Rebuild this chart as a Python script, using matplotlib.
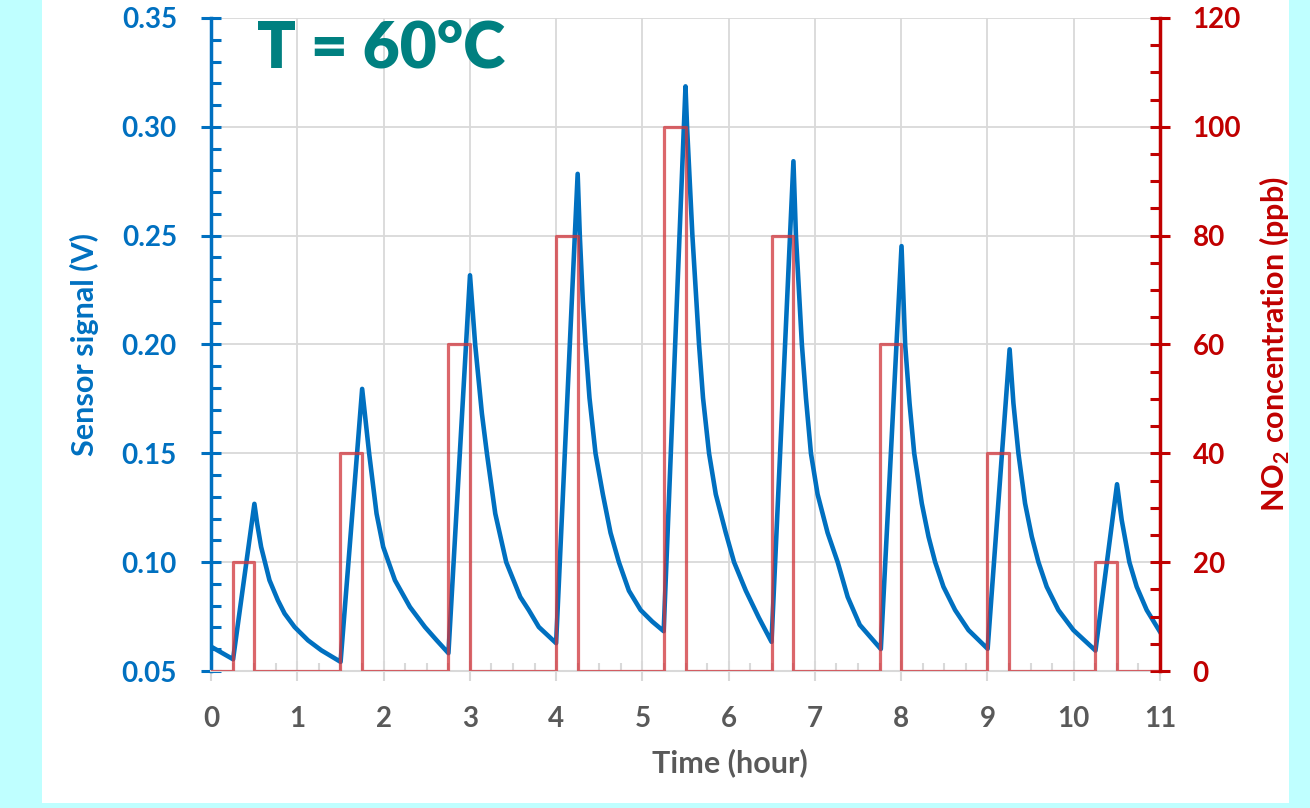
"""Sensor response to NO2 pulses at 60 C."""

import matplotlib
matplotlib.use("Agg")
import matplotlib.pyplot as plt
from matplotlib.patches import Rectangle
from matplotlib.ticker import MultipleLocator

# NO2 exposure steps (hour, ppb), held until the next time
no2_time = [0, 0.25, 0.5, 1.5, 1.75, 2.75, 3.0, 4.0, 4.25, 5.25, 5.5,
            6.5, 6.75, 7.75, 8.0, 9.0, 9.25, 10.25, 10.5, 11]
no2_ppb = [0, 20, 0, 40, 0, 60, 0, 80, 0, 100, 0,
           80, 0, 60, 0, 40, 0, 20, 0, 0]

# sensor signal (hour, V)
sig_time = [0.0, 0.256, 0.503, 0.535, 0.581, 0.678, 0.775, 0.853, 0.969, 1.124, 1.279, 1.502,
            1.752, 1.783, 1.833, 1.919, 1.996, 2.132, 2.306, 2.48, 2.616, 2.752,
            3.002, 3.062, 3.14, 3.198, 3.295, 3.422, 3.585, 3.683, 3.8, 4.0,
            4.25, 4.275, 4.31, 4.341, 4.387, 4.457, 4.542, 4.631, 4.728, 4.844, 4.98, 5.115, 5.247,
            5.5, 5.518, 5.58, 5.657, 5.703, 5.773, 5.851, 5.967, 6.063, 6.199, 6.35, 6.497,
            6.751, 6.78, 6.849, 6.896, 6.954, 7.031, 7.147, 7.264, 7.38, 7.52, 7.764,
            8.004, 8.046, 8.097, 8.151, 8.239, 8.317, 8.394, 8.49, 8.625, 8.78, 9.002,
            9.257, 9.301, 9.359, 9.436, 9.514, 9.591, 9.687, 9.822, 9.996, 10.252,
            10.502, 10.556, 10.645, 10.73, 10.846, 11.0]
sig_volt = [0.0612, 0.0554, 0.1268, 0.1177, 0.1070, 0.0917, 0.0825, 0.0764, 0.0702, 0.0641, 0.0595, 0.0542,
            0.1796, 0.1683, 0.1500, 0.1223, 0.1070, 0.0917, 0.0794, 0.0702, 0.0641, 0.0582,
            0.2318, 0.2000, 0.1683, 0.1500, 0.1223, 0.1000, 0.0840, 0.0780, 0.0702, 0.0628,
            0.2784, 0.2500, 0.2199, 0.2000, 0.1755, 0.1500, 0.1312, 0.1135, 0.1000, 0.0869, 0.0780, 0.0727, 0.0683,
            0.3186, 0.3000, 0.2500, 0.2000, 0.1755, 0.1500, 0.1312, 0.1135, 0.1000, 0.0869, 0.0745, 0.0634,
            0.2842, 0.2500, 0.2000, 0.1755, 0.1500, 0.1312, 0.1135, 0.1000, 0.0840, 0.0712, 0.0601,
            0.2452, 0.2000, 0.1730, 0.1500, 0.1270, 0.1117, 0.1000, 0.0887, 0.0780, 0.0688, 0.0602,
            0.1978, 0.1730, 0.1500, 0.1270, 0.1117, 0.1000, 0.0887, 0.0780, 0.0688, 0.0594,
            0.1358, 0.1194, 0.1000, 0.0887, 0.0780, 0.0680]

BLUE = "#0070C0"
RED = "#C00000"
GRAY = "#595959"
GRID = "#D9D9D9"

plt.rcParams["font.family"] = ["Lato", "DejaVu Sans"]
plt.rcParams["font.weight"] = "bold"
plt.rcParams["mathtext.fontset"] = "custom"
plt.rcParams["mathtext.rm"] = "Lato:bold"
plt.rcParams["mathtext.bf"] = "Lato:bold"

fig = plt.figure(figsize=(13.1, 8.08), dpi=100)
fig.patch.set_facecolor("#BFFFFF")
fig.patches.append(Rectangle((42 / 1310, 5 / 808), 1247 / 1310, 803 / 808,
                             transform=fig.transFigure, facecolor="white",
                             edgecolor="none", zorder=-10))

ax = fig.add_axes([211 / 1310, 1 - 671 / 808, 949 / 1310, 653 / 808])
ax.patch.set_alpha(0)
ax2 = ax.twinx()

ax.plot(sig_time, sig_volt, color=BLUE, lw=3.3, solid_joinstyle="round", zorder=3)
ax2.plot(no2_time, no2_ppb, drawstyle="steps-post", color="#D0343A", alpha=0.75, lw=2.3)

ax.set_xlim(0, 11)
ax.set_ylim(0.05, 0.35)
ax2.set_ylim(0, 120)

ax.xaxis.set_major_locator(MultipleLocator(1))
ax.xaxis.set_minor_locator(MultipleLocator(0.25))
ax.yaxis.set_major_locator(MultipleLocator(0.05))
ax.yaxis.set_minor_locator(MultipleLocator(0.01))
ax2.yaxis.set_major_locator(MultipleLocator(20))
ax2.yaxis.set_minor_locator(MultipleLocator(5))
ax.yaxis.set_major_formatter(plt.FuncFormatter(lambda v, _: f"{v:.2f}"))

ax.grid(True, which="major", color=GRID, lw=1.3)
ax.set_axisbelow(True)

ax.spines["top"].set_visible(False)
ax2.spines["top"].set_visible(False)
ax.spines["left"].set_color(BLUE)
ax.spines["left"].set_linewidth(2.5)
ax.spines["bottom"].set_color(GRID)
ax.spines["bottom"].set_linewidth(1.5)
ax2.spines["left"].set_visible(False)
ax2.spines["bottom"].set_visible(False)
ax2.spines["right"].set_color(RED)
ax2.spines["right"].set_linewidth(2.5)
ax.spines["right"].set_visible(False)

ax.tick_params(axis="y", which="major", direction="inout", length=15, width=2.2,
               color=BLUE, labelcolor=BLUE, labelsize=20, pad=17)
ax.tick_params(axis="y", which="minor", direction="in", length=7, width=2.2, color=BLUE)
ax.tick_params(axis="x", which="major", direction="inout", length=14, width=1.5,
               color=GRID, labelcolor=GRAY, labelsize=20, pad=18)
ax.tick_params(axis="x", which="minor", direction="in", length=6, width=1.5, color=GRID)
ax2.tick_params(axis="y", which="major", direction="inout", length=15, width=2.2,
                color=RED, labelcolor=RED, labelsize=20, pad=16)
ax2.tick_params(axis="y", which="minor", direction="in", length=7, width=2.2, color=RED)

for lab in ax.get_xticklabels() + ax.get_yticklabels() + ax2.get_yticklabels():
    lab.set_fontweight("bold")

ax.set_xlabel("Time (hour)", color=GRAY, fontsize=22, fontweight="bold", labelpad=12,
              x=0.547)
ax.set_ylabel("Sensor signal (V)", color=BLUE, fontsize=22, fontweight="bold", labelpad=16)
ax2.set_ylabel("NO$_\\mathbf{2}$ concentration (ppb)", color=RED, fontsize=22,
               fontweight="bold", labelpad=12)

fig.text(257 / 1310, 1 - 20 / 808, "T = 60°C", color="#008080", fontsize=46,
         fontweight="heavy", ha="left", va="top")

fig.savefig("out.png", dpi=100, facecolor=fig.get_facecolor())
